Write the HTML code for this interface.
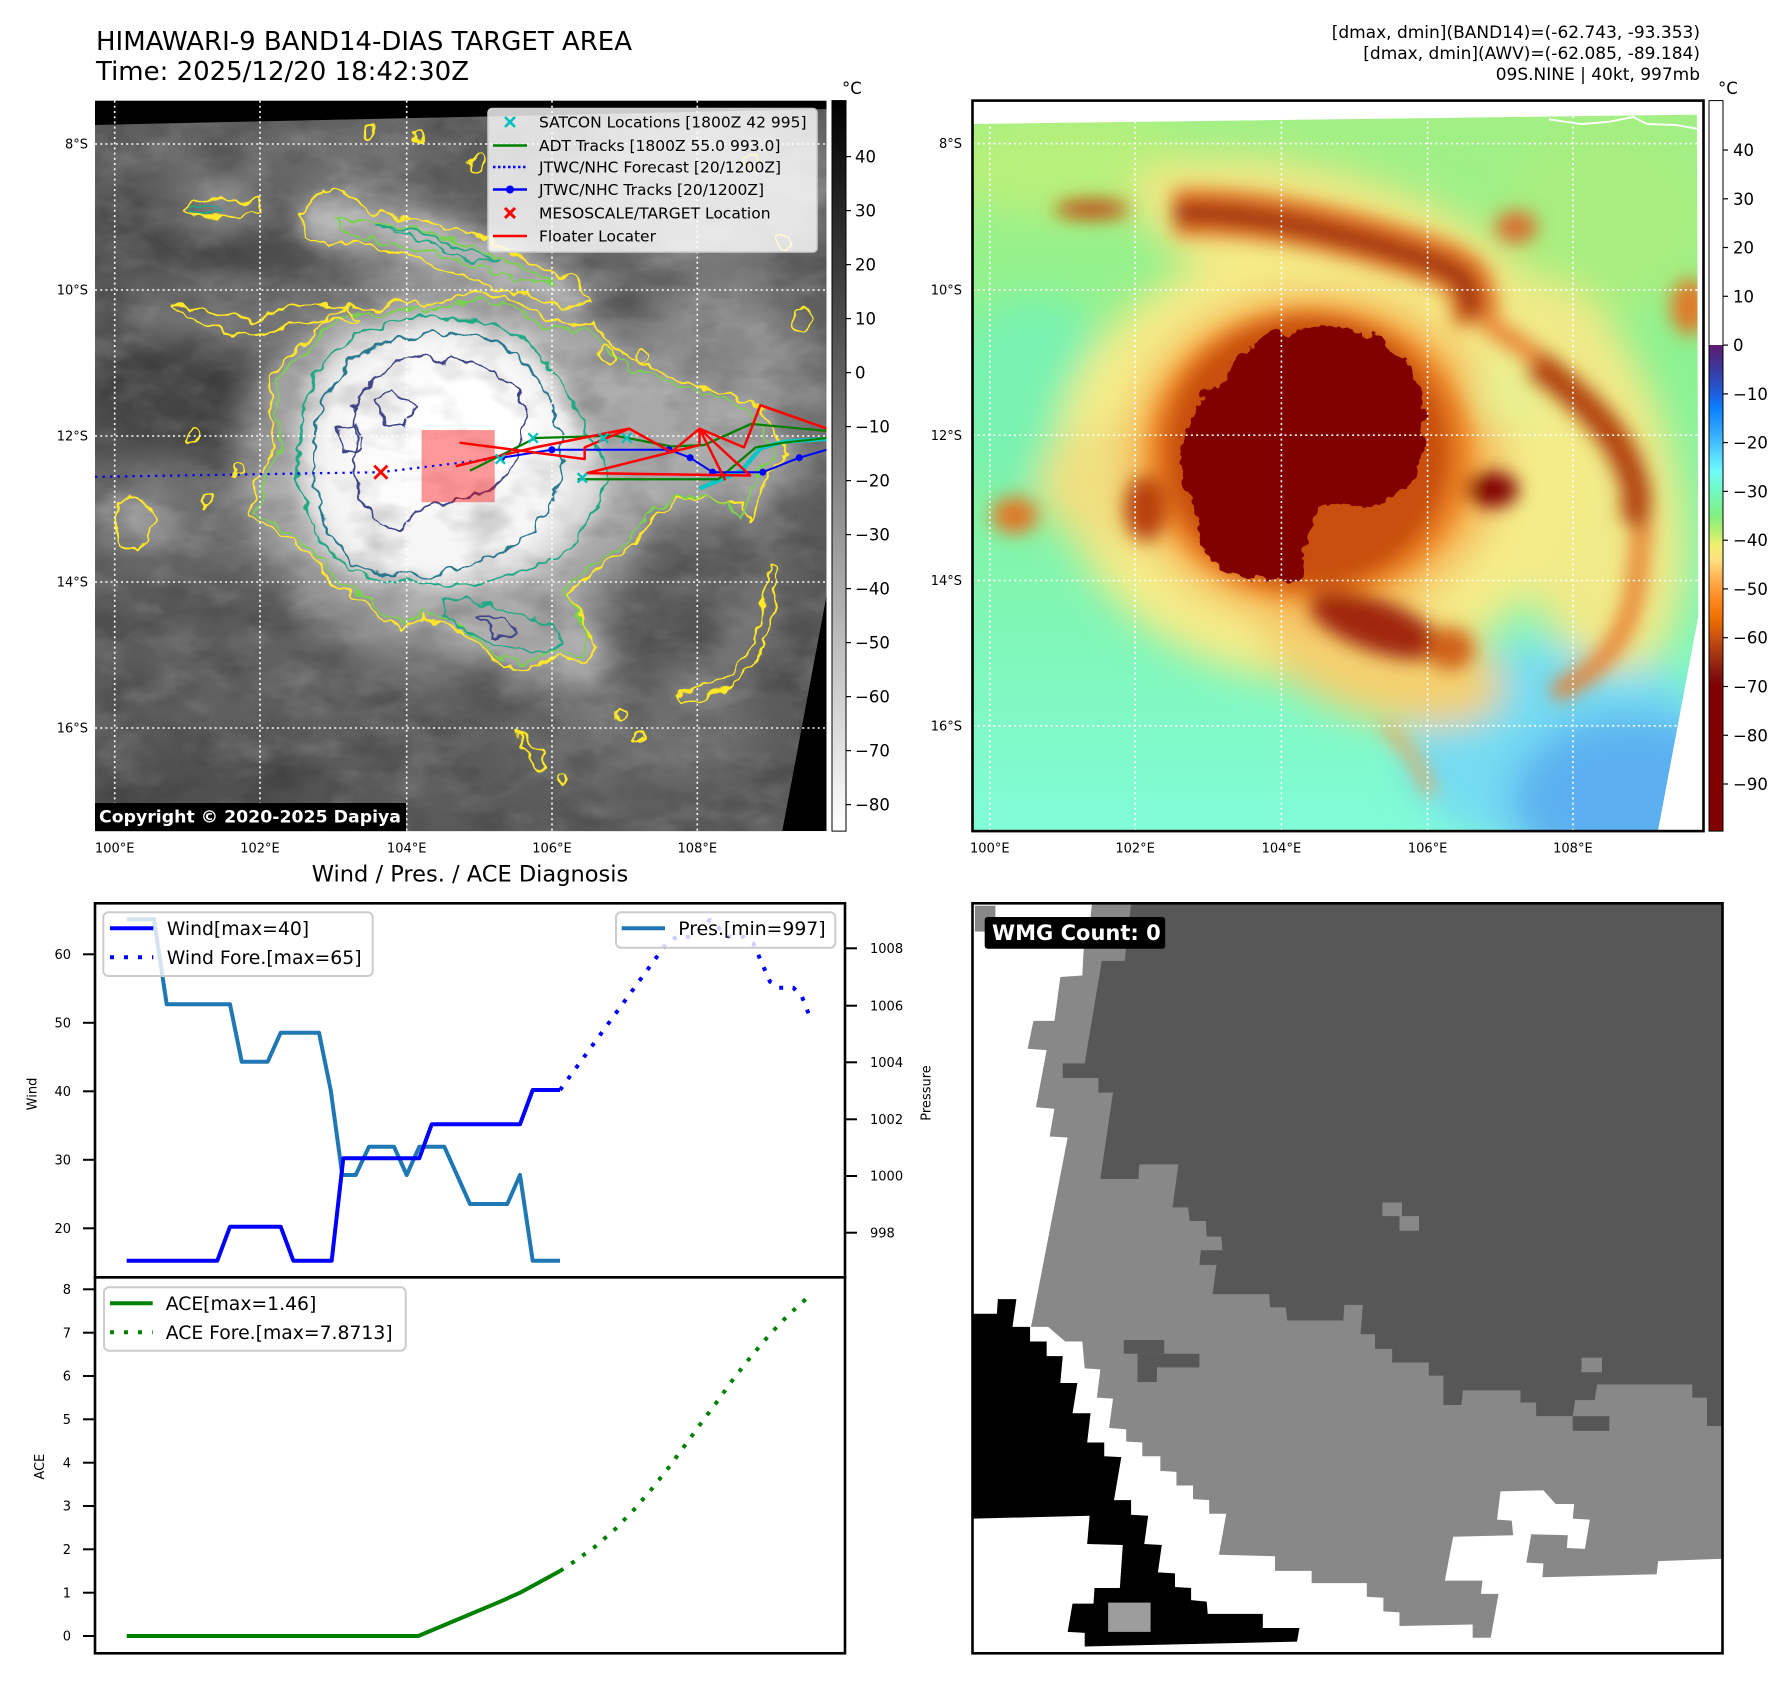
<!DOCTYPE html>
<html><head><meta charset="utf-8">
<style>
html,body{margin:0;padding:0;background:#fff}
svg{display:block}
text{font-family:"DejaVu Sans","Liberation Sans",sans-serif;fill:#000}
</style></head><body>
<svg xmlns="http://www.w3.org/2000/svg" width="1788" height="1690" viewBox="0 0 1788 1690">
<defs>
 <filter id="b40" x="-50%" y="-50%" width="200%" height="200%"><feGaussianBlur stdDeviation="40"/></filter>
 <filter id="b20" x="-50%" y="-50%" width="200%" height="200%"><feGaussianBlur stdDeviation="20"/></filter>
 <filter id="b8" x="-50%" y="-50%" width="200%" height="200%"><feGaussianBlur stdDeviation="8"/></filter>
 <filter id="rough" x="-10%" y="-10%" width="120%" height="120%"><feTurbulence type="fractalNoise" baseFrequency="0.03" numOctaves="2" seed="4" result="t"/><feDisplacementMap in="SourceGraphic" in2="t" scale="32" xChannelSelector="R" yChannelSelector="G"/></filter>
 <filter id="rough2" x="-10%" y="-10%" width="120%" height="120%"><feTurbulence type="fractalNoise" baseFrequency="0.025" numOctaves="3" seed="9" result="t"/><feDisplacementMap in="SourceGraphic" in2="t" scale="45" xChannelSelector="R" yChannelSelector="G"/></filter>
 <filter id="tex" x="0" y="0" width="100%" height="100%"><feTurbulence type="fractalNoise" baseFrequency="0.008 0.014" numOctaves="4" seed="7"/><feColorMatrix type="matrix" values="0 0 0 0 1  0 0 0 0 1  0 0 0 0 1  2.2 0 0 0 -1.0"/></filter>
 <filter id="texd" x="0" y="0" width="100%" height="100%"><feTurbulence type="fractalNoise" baseFrequency="0.009 0.015" numOctaves="3" seed="13"/><feColorMatrix type="matrix" values="0 0 0 0 0  0 0 0 0 0  0 0 0 0 0  2.2 0 0 0 -1.0"/></filter>
 <linearGradient id="gcb" x1="0" y1="0" x2="0" y2="1"><stop offset="0" stop-color="#000"/><stop offset="1" stop-color="#fff"/></linearGradient>
 <linearGradient id="ccb" x1="0" y1="0" x2="0" y2="1">
  <stop offset="0" stop-color="#fff"/><stop offset="0.3347" stop-color="#fff"/>
  <stop offset="0.3347" stop-color="#5e1a6e"/>
  <stop offset="0.3681" stop-color="#3a3aa0"/>
  <stop offset="0.4015" stop-color="#1e5ee0"/>
  <stop offset="0.4215" stop-color="#0a82ff"/>
  <stop offset="0.4549" stop-color="#34aaff"/>
  <stop offset="0.4949" stop-color="#62e8ff"/>
  <stop offset="0.5083" stop-color="#70fcf8"/>
  <stop offset="0.5350" stop-color="#70f8c0"/>
  <stop offset="0.5684" stop-color="#82f080"/>
  <stop offset="0.5884" stop-color="#b4f070"/>
  <stop offset="0.6085" stop-color="#f0f070"/>
  <stop offset="0.6285" stop-color="#ffe080"/>
  <stop offset="0.6552" stop-color="#ffb050"/>
  <stop offset="0.6819" stop-color="#ff8a20"/>
  <stop offset="0.7086" stop-color="#f07000"/>
  <stop offset="0.7353" stop-color="#c85010"/>
  <stop offset="0.7620" stop-color="#a03010"/>
  <stop offset="0.7886" stop-color="#801010"/>
  <stop offset="0.8020" stop-color="#800000"/>
  <stop offset="1" stop-color="#800000"/>
 </linearGradient>
 <linearGradient id="rbg" x1="0" y1="0" x2="0" y2="1">
  <stop offset="0" stop-color="#a4f084"/><stop offset="0.35" stop-color="#8cf290"/>
  <stop offset="0.7" stop-color="#80f6b4"/><stop offset="1" stop-color="#80fcd8"/>
 </linearGradient>
 <clipPath id="clipL"><rect x="95" y="100.6" width="731.5" height="730.5"/></clipPath>
 <clipPath id="clipR"><rect x="972.5" y="100.6" width="731" height="730.5"/></clipPath>
 <clipPath id="imgL"><polygon points="0,52 1562,18 1562,1052 1466,1562 0,1562"/></clipPath>
 <clipPath id="imgR"><polygon points="0,50 1546,30 1549,1100 1462,1562 0,1562"/></clipPath>
 <clipPath id="clipW"><rect x="972.5" y="903.3" width="750" height="750"/></clipPath>

 <path id="sA" d="M330,880 L350,800 L390,740 L370,660 L380,590 L420,540 L470,500 L500,460 L540,440 L600,450 L640,425 L700,440 L770,420 L840,410 L900,430 L960,470 L1020,480 L1060,470 L1100,520 L1160,560 L1210,580 L1260,600 L1330,620 L1400,640 L1440,680 L1480,760 L1440,790 L1420,840 L1400,900 L1380,860 L1320,850 L1250,850 L1190,890 L1150,950 L1080,990 L1010,1050 L1040,1110 L1070,1160 L1050,1200 L990,1190 L930,1210 L870,1210 L830,1170 L770,1130 L700,1100 L650,1130 L610,1100 L560,1060 L500,1030 L470,980 L420,940 L370,910 Z"/>
 <path id="sB" d="M430,780 L440,690 L460,610 L500,540 L570,490 L640,470 L700,460 L780,465 L860,480 L920,510 L960,560 L1000,610 L1040,680 L1070,740 L1090,800 L1070,870 L1030,930 L990,975 L930,1000 L860,1020 L790,1035 L700,1030 L620,1025 L550,1000 L500,960 L460,900 L440,840 Z"/>
 <path id="sC" d="M465,790 L470,700 L490,630 L540,560 L620,515 L720,495 L800,500 L870,520 L930,570 L970,630 L990,700 L1000,780 L980,850 L940,910 L880,960 L800,990 L710,1015 L620,1010 L550,985 L505,930 L480,870 Z"/>
 <path id="sD" d="M550,650 L590,600 L640,560 L700,545 L740,560 L760,550 L800,560 L850,580 L900,620 L920,680 L905,760 L880,800 L850,830 L780,850 L720,860 L680,880 L650,920 L610,900 L575,870 L560,820 L545,770 L560,720 Z"/>
 <path id="sTop" d="M440,240 L480,190 L540,200 L600,240 L660,250 L720,260 L790,280 L840,300 L900,330 L960,360 L1020,380 L1060,430 L1000,440 L930,420 L860,400 L800,380 L740,360 L680,330 L620,320 L560,300 L490,310 L450,290 Z"/>
 <path id="sArc" d="M1240,1270 L1300,1255 L1360,1220 L1400,1170 L1420,1110 L1430,1050 L1440,990 L1455,1000 L1450,1060 L1440,1130 L1410,1200 L1360,1250 L1300,1275 L1245,1285 Z"/>
 <path id="sArm" d="M160,435 L250,450 L330,470 L420,440 L480,435 L540,440 L560,470 L500,470 L420,480 L360,500 L300,500 L240,480 L170,450 Z"/>
 <path id="sBot" d="M740,1070 L800,1060 L860,1080 L920,1100 L980,1120 L1000,1160 L960,1180 L900,1170 L840,1150 L780,1130 L745,1100 Z"/>
</defs>

<rect width="1788" height="1690" fill="#fff"/>

<!-- Titles -->
<text x="96" y="50" font-size="25.5" textLength="536" lengthAdjust="spacingAndGlyphs">HIMAWARI-9 BAND14-DIAS TARGET AREA</text>
<text x="96" y="80" font-size="25.5" textLength="373" lengthAdjust="spacingAndGlyphs">Time: 2025/12/20 18:42:30Z</text>
<text x="1700" y="38" font-size="17" text-anchor="end">[dmax, dmin](BAND14)=(-62.743, -93.353)</text>
<text x="1700" y="59" font-size="17" text-anchor="end">[dmax, dmin](AWV)=(-62.085, -89.184)</text>
<text x="1700" y="80" font-size="17" text-anchor="end">09S.NINE | 40kt, 997mb</text>

<!-- ============ LEFT MAP ============ -->
<g clip-path="url(#clipL)">
 <rect x="95" y="100.6" width="731.5" height="730.5" fill="#000"/>
 <g transform="translate(95,100.6) scale(0.4686)">
  <g clip-path="url(#imgL)">
   <rect width="1562" height="1562" fill="#5a5a5a"/>
   <g filter="url(#b40)">
    <ellipse cx="300" cy="300" rx="320" ry="90" fill="#4a4a4a"/>
    <ellipse cx="180" cy="640" rx="200" ry="150" fill="#444"/>
    <ellipse cx="280" cy="450" rx="230" ry="50" fill="#7e7e7e"/>
    <ellipse cx="350" cy="120" rx="330" ry="70" fill="#686868"/>
    <ellipse cx="620" cy="110" rx="140" ry="70" fill="#747474"/>
    <ellipse cx="1300" cy="180" rx="300" ry="170" fill="#858585"/>
    <ellipse cx="1330" cy="650" rx="240" ry="270" fill="#888"/>
    <ellipse cx="150" cy="880" rx="200" ry="120" fill="#6e6e6e"/>
    <ellipse cx="450" cy="1250" rx="350" ry="150" fill="#606060"/>
    <ellipse cx="1150" cy="1350" rx="280" ry="130" fill="#6c6c6c"/>
    <ellipse cx="250" cy="1460" rx="260" ry="100" fill="#505050"/>
    <ellipse cx="760" cy="330" rx="340" ry="80" transform="rotate(17 760 330)" fill="#a0a0a0"/>
    <ellipse cx="760" cy="790" rx="460" ry="410" fill="#929292"/>
    <ellipse cx="900" cy="1130" rx="210" ry="75" transform="rotate(22 900 1130)" fill="#b6b6b6"/>
    <path d="M1240,1270 Q1420,1200 1440,1000" stroke="#9a9a9a" stroke-width="40" fill="none"/>
    <ellipse cx="90" cy="900" rx="50" ry="55" fill="#b0b0b0"/>
    <ellipse cx="265" cy="230" rx="90" ry="25" fill="#b4b4b4"/>
   </g>
   <g filter="url(#b20)">
    <use href="#sA" fill="#a8a8a8"/>
    <use href="#sTop" fill="#b2b2b2"/>
    <use href="#sB" fill="#dedede"/>
    <use href="#sC" fill="#f0f0f0"/>
    <ellipse cx="745" cy="760" rx="270" ry="265" fill="#f6f6f6"/>
    <use href="#sD" fill="#fcfcfc"/>
    <ellipse cx="810" cy="700" rx="130" ry="120" fill="#fff"/>
   </g>
   <rect width="1562" height="1562" filter="url(#tex)" opacity="0.16"/>
   <rect width="1562" height="1562" filter="url(#texd)" opacity="0.18"/>
   <g filter="url(#rough)" fill="none" stroke-width="4.3" stroke-linejoin="round">
    <use href="#sA" stroke="#fde725"/>
    <use href="#sA" stroke="#7ad151" transform="translate(26.6,28) scale(0.965)"/>
    <use href="#sB" stroke="#22a884"/>
    <use href="#sC" stroke="#2a788e"/>
    <use href="#sD" stroke="#414487"/>
    <use href="#sTop" stroke="#fde725"/>
    <path d="M520,250 L600,260 L700,280 L800,310 L900,350 L980,390 L900,380 L800,350 L700,320 L600,300 L530,280 Z" stroke="#7ad151"/>
    <path d="M600,265 L700,285 L800,320 L860,340 L800,340 L700,300 Z" stroke="#22a884"/>
    <path d="M185,235 L210,210 L260,205 L320,215 L350,210 L345,240 L300,245 L250,248 L200,245 Z" stroke="#fde725"/>
    <ellipse cx="235" cy="232" rx="35" ry="10" stroke="#22a884"/>
    <use href="#sArc" stroke="#fde725"/>
    <use href="#sArm" stroke="#fde725"/>
    <path d="M50,850 L80,840 L120,870 L130,900 L110,930 L90,960 L60,950 L45,900 Z" stroke="#fde725"/>
    <use href="#sBot" stroke="#22a884"/>
    <path d="M820,1100 L880,1105 L900,1135 L850,1140 Z" stroke="#414487"/>
    <path d="M600,640 L640,620 L680,650 L660,700 L620,690 Z" stroke="#414487"/>
    <path d="M520,700 L560,690 L570,740 L530,750 Z" stroke="#414487"/>
    <circle cx="585" cy="65" r="10" stroke="#fde725"/>
    <circle cx="690" cy="75" r="12" stroke="#fde725"/>
    <circle cx="815" cy="135" r="15" stroke="#fde725"/>
    <circle cx="1090" cy="545" r="20" stroke="#fde725"/>
    <circle cx="1165" cy="545" r="15" stroke="#fde725"/>
    <circle cx="1400" cy="130" r="14" stroke="#fde725"/>
    <circle cx="1470" cy="300" r="16" stroke="#fde725"/>
    <circle cx="1510" cy="470" r="22" stroke="#fde725"/>
    <circle cx="240" cy="855" r="12" stroke="#fde725"/>
    <circle cx="300" cy="790" r="10" stroke="#fde725"/>
    <circle cx="210" cy="720" r="14" stroke="#fde725"/>
    <path d="M900,1350 L940,1380 L970,1420 L950,1425 L910,1380 Z" stroke="#fde725"/>
    <circle cx="1000" cy="1450" r="10" stroke="#fde725"/>
    <circle cx="1120" cy="1310" r="12" stroke="#fde725"/>
    <circle cx="1160" cy="1360" r="8" stroke="#fde725"/>
   </g>
  </g>
 </g>
 <!-- gridlines -->
 <g stroke="#fff" stroke-width="1.6" stroke-dasharray="2 3.2" fill="none">
  <line x1="114.7" y1="100.6" x2="114.7" y2="831"/><line x1="260" y1="100.6" x2="260" y2="831"/>
  <line x1="406.7" y1="100.6" x2="406.7" y2="831"/><line x1="552" y1="100.6" x2="552" y2="831"/>
  <line x1="697.3" y1="100.6" x2="697.3" y2="831"/>
  <line x1="95" y1="144" x2="826.5" y2="144"/><line x1="95" y1="290" x2="826.5" y2="290"/>
  <line x1="95" y1="436" x2="826.5" y2="436"/><line x1="95" y1="582" x2="826.5" y2="582"/>
  <line x1="95" y1="728" x2="826.5" y2="728"/>
 </g>
 <!-- tracks -->
 <g transform="translate(95,100.6) scale(0.4686)" fill="none" stroke-linejoin="round">
  <rect x="697" y="703" width="156" height="154" fill="#ff0000" fill-opacity="0.4" stroke="none"/>
  <path d="M0,803 L610,793 L870,762" stroke="#0000ff" stroke-width="4.7" stroke-dasharray="5 11"/>
  <path d="M1290,828 L1380,790 L1420,742 L1470,728 L1562,722" stroke="#00c8c8" stroke-width="9"/>
  <path d="M800,790 L940,720 L1110,715 L1230,738 L1300,735 L1400,690 L1562,705" stroke="#008000" stroke-width="4.7"/>
  <path d="M1030,808 L1330,808 L1410,740 L1470,730 L1562,720" stroke="#008000" stroke-width="4.7"/>
  <path d="M868,762 L975,745 L1225,745 L1270,762 L1318,793 L1425,793 L1503,762 L1562,745" stroke="#0000ff" stroke-width="4.3"/>
  <g fill="#0000ff"><circle cx="868" cy="762" r="7.5"/><circle cx="975" cy="745" r="7.5"/><circle cx="1225" cy="745" r="7.5"/><circle cx="1270" cy="762" r="7.5"/><circle cx="1318" cy="793" r="7.5"/><circle cx="1425" cy="793" r="7.5"/><circle cx="1503" cy="762" r="7.5"/></g>
  <path d="M778,730 L1045,765 L1045,740 L1140,700 L1230,750 L1290,700 L1290,735 L1050,795 L1398,800 L1290,700 L1385,740 L1420,650 L1562,700" stroke="#ff0000" stroke-width="5.3"/>
  <path d="M770,780 L940,740 L1140,700" stroke="#ff0000" stroke-width="5.3"/>
  <path d="M1290,700 L1345,810" stroke="#ff0000" stroke-width="5.3"/>
  <g stroke="#00c0c0" stroke-width="5"><path d="M925,710 L945,730 M945,710 L925,730"/><path d="M1075,710 L1095,730 M1095,710 L1075,730"/><path d="M1125,710 L1145,730 M1145,710 L1125,730"/><path d="M855,755 L875,775 M875,755 L855,775"/><path d="M1030,795 L1050,815 M1050,795 L1030,815"/></g>
  <path d="M596,779 L624,807 M624,779 L596,807" stroke="#ff0000" stroke-width="6"/>
 </g>
 <!-- copyright -->
 <rect x="95" y="803" width="311" height="29" fill="#000"/>
 <text x="99" y="822.5" font-size="17" font-weight="bold" style="fill:#fff" textLength="302" lengthAdjust="spacingAndGlyphs">Copyright © 2020-2025 Dapiya</text>
</g>
<!-- left legend -->
<rect x="488" y="108.5" width="329" height="143.5" rx="4" fill="#fff" fill-opacity="0.8" stroke="#ccc" stroke-width="1.5"/>
<g font-size="15.5">
 <path d="M505,117 L515,127 M515,117 L505,127" stroke="#00bfbf" stroke-width="2.6"/>
 <text x="539" y="127.6">SATCON Locations [1800Z 42 995]</text>
 <line x1="493" y1="145.5" x2="527" y2="145.5" stroke="#008000" stroke-width="2.5"/>
 <text x="539" y="151.1">ADT Tracks [1800Z 55.0 993.0]</text>
 <line x1="493" y1="167" x2="527" y2="167" stroke="#0000ff" stroke-width="2.5" stroke-dasharray="2.5 2.5"/>
 <text x="539" y="172.6">JTWC/NHC Forecast [20/1200Z]</text>
 <line x1="493" y1="189.5" x2="527" y2="189.5" stroke="#0000ff" stroke-width="2.5"/>
 <circle cx="510" cy="189.5" r="4" fill="#0000ff"/>
 <text x="539" y="195.1">JTWC/NHC Tracks [20/1200Z]</text>
 <path d="M505,208 L515,218 M515,208 L505,218" stroke="#ff0000" stroke-width="3"/>
 <text x="539" y="218.6">MESOSCALE/TARGET Location</text>
 <line x1="493" y1="236" x2="527" y2="236" stroke="#ff0000" stroke-width="2.5"/>
 <text x="539" y="241.6">Floater Locater</text>
</g>
<!-- left map labels -->
<g font-size="13">
 <g text-anchor="end"><text x="88" y="148.6">8°S</text><text x="88" y="294.6">10°S</text><text x="88" y="440.6">12°S</text><text x="88" y="586.6">14°S</text><text x="88" y="732.6">16°S</text></g>
 <g text-anchor="middle"><text x="114.7" y="852.5">100°E</text><text x="260" y="852.5">102°E</text><text x="406.7" y="852.5">104°E</text><text x="552" y="852.5">106°E</text><text x="697.3" y="852.5">108°E</text></g>
</g>
<!-- left colorbar -->
<rect x="832" y="100.6" width="14" height="730.5" fill="url(#gcb)" stroke="#000" stroke-width="1"/>
<text x="842" y="94" font-size="16.5">°C</text>
<g stroke="#000" stroke-width="1.2">
 <line x1="846" y1="156.6" x2="851" y2="156.6"/><line x1="846" y1="210.6" x2="851" y2="210.6"/><line x1="846" y1="264.6" x2="851" y2="264.6"/><line x1="846" y1="318.6" x2="851" y2="318.6"/><line x1="846" y1="372.6" x2="851" y2="372.6"/><line x1="846" y1="426.6" x2="851" y2="426.6"/><line x1="846" y1="480.6" x2="851" y2="480.6"/><line x1="846" y1="534.6" x2="851" y2="534.6"/><line x1="846" y1="588.6" x2="851" y2="588.6"/><line x1="846" y1="642.6" x2="851" y2="642.6"/><line x1="846" y1="696.6" x2="851" y2="696.6"/><line x1="846" y1="750.6" x2="851" y2="750.6"/><line x1="846" y1="804.6" x2="851" y2="804.6"/>
</g>
<g font-size="16.5">
 <text x="855" y="162.6">40</text><text x="855" y="216.6">30</text><text x="855" y="270.6">20</text><text x="855" y="324.6">10</text><text x="855" y="378.6">0</text><text x="855" y="432.6">−10</text><text x="855" y="486.6">−20</text><text x="855" y="540.6">−30</text><text x="855" y="594.6">−40</text><text x="855" y="648.6">−50</text><text x="855" y="702.6">−60</text><text x="855" y="756.6">−70</text><text x="855" y="810.6">−80</text>
</g>

<!-- ============ RIGHT MAP ============ -->
<g clip-path="url(#clipR)">
 <rect x="972.5" y="100.6" width="731" height="730.5" fill="#fff"/>
 <g transform="translate(972.5,100.6) scale(0.4686)">
  <g clip-path="url(#imgR)">
   <rect width="1562" height="1562" fill="url(#rbg)"/>
   <g filter="url(#b40)">
    <ellipse cx="1250" cy="1380" rx="330" ry="220" fill="#74dcf2"/>
    <ellipse cx="1410" cy="1490" rx="260" ry="180" fill="#5cb0f0"/>
    <ellipse cx="130" cy="640" rx="190" ry="220" fill="#78f2b0"/>
    <ellipse cx="200" cy="140" rx="260" ry="110" fill="#b8f07c"/>
    <ellipse cx="1350" cy="250" rx="230" ry="200" fill="#a8ee80"/>
    <ellipse cx="760" cy="300" rx="430" ry="150" transform="rotate(15 760 300)" fill="#f2e884"/>
    <ellipse cx="1300" cy="800" rx="200" ry="430" transform="rotate(-15 1300 800)" fill="#f0ea88"/>
    <ellipse cx="740" cy="770" rx="560" ry="470" fill="#f4ec88"/>
    <ellipse cx="880" cy="1200" rx="260" ry="120" transform="rotate(15 880 1200)" fill="#f4d070"/>
    <ellipse cx="300" cy="820" rx="160" ry="130" fill="#f0e080"/>
    <ellipse cx="730" cy="760" rx="400" ry="350" fill="#f6b050"/>
    <ellipse cx="1150" cy="620" rx="90" ry="90" fill="#e8f090"/>
   </g>
   <g filter="url(#b20)">
    <ellipse cx="720" cy="755" rx="345" ry="310" fill="#ea8020"/>
    <ellipse cx="715" cy="750" rx="305" ry="290" fill="#c85010"/>
    <path d="M430,240 C600,230 800,280 950,330 S1050,400 1080,470" stroke="#e07020" stroke-width="100" fill="none"/>
    <path d="M430,240 C600,235 800,285 950,335 S1040,400 1070,460" stroke="#962408" stroke-width="40" fill="none"/>
    <path d="M1090,470 C1200,540 1300,610 1370,700 S1430,900 1420,1000 S1380,1200 1240,1265" stroke="#e88030" stroke-width="40" fill="none"/>
    <path d="M1200,560 C1280,620 1350,680 1390,760 S1420,880 1400,900" stroke="#b04010" stroke-width="60" fill="none"/>
    <ellipse cx="860" cy="1120" rx="150" ry="55" transform="rotate(20 860 1120)" fill="#a02808"/>
    <ellipse cx="1020" cy="1170" rx="50" ry="45" fill="#d06018"/>
    <ellipse cx="255" cy="232" rx="80" ry="20" fill="#c04808"/>
    <ellipse cx="90" cy="885" rx="50" ry="40" fill="#e07828"/>
    <ellipse cx="1110" cy="830" rx="55" ry="38" fill="#800000"/>
    <ellipse cx="370" cy="870" rx="45" ry="70" fill="#b84010"/>
    <ellipse cx="1160" cy="270" rx="45" ry="35" fill="#d87030"/>
    <ellipse cx="1530" cy="440" rx="40" ry="60" fill="#e07828"/>
    <path d="M880,1330 L940,1400 L980,1480" stroke="#f0a050" stroke-width="22" fill="none"/>
   </g>
   <path filter="url(#rough2)" fill="#800000" d="M440,720 L470,650 L520,610 L560,550 L640,495 L760,480 L860,500 L930,560 L960,640 L965,720 L950,790 L900,850 L830,870 L760,860 L725,880 L715,950 L700,1015 L600,1025 L530,1000 L490,940 L470,860 L450,790 Z"/>
   <path d="M1230,40 L1300,50 L1360,45 L1410,35 L1440,50 L1500,52 L1546,60" stroke="#fff" stroke-width="4" fill="none"/>
  </g>
 </g>
 <g stroke="#fff" stroke-width="1.6" stroke-dasharray="2 3.2" fill="none">
  <line x1="989.8" y1="100.6" x2="989.8" y2="831"/><line x1="1135.1" y1="100.6" x2="1135.1" y2="831"/>
  <line x1="1281.4" y1="100.6" x2="1281.4" y2="831"/><line x1="1427.6" y1="100.6" x2="1427.6" y2="831"/>
  <line x1="1572.9" y1="100.6" x2="1572.9" y2="831"/>
  <line x1="972.5" y1="143.6" x2="1703.5" y2="143.6"/><line x1="972.5" y1="289.8" x2="1703.5" y2="289.8"/>
  <line x1="972.5" y1="435.2" x2="1703.5" y2="435.2"/><line x1="972.5" y1="580.5" x2="1703.5" y2="580.5"/>
  <line x1="972.5" y1="725.8" x2="1703.5" y2="725.8"/>
 </g>
</g>
<rect x="972.5" y="100.6" width="731" height="730.5" fill="none" stroke="#000" stroke-width="2.6"/>
<g font-size="13">
 <g text-anchor="end"><text x="962" y="148.2">8°S</text><text x="962" y="294.4">10°S</text><text x="962" y="439.8">12°S</text><text x="962" y="585.1">14°S</text><text x="962" y="730.4">16°S</text></g>
 <g text-anchor="middle"><text x="989.8" y="852.5">100°E</text><text x="1135.1" y="852.5">102°E</text><text x="1281.4" y="852.5">104°E</text><text x="1427.6" y="852.5">106°E</text><text x="1572.9" y="852.5">108°E</text></g>
</g>
<!-- right colorbar -->
<rect x="1709" y="100.6" width="14" height="730.5" fill="url(#ccb)" stroke="#000" stroke-width="1"/>
<text x="1718" y="94" font-size="16.5">°C</text>
<g stroke="#000" stroke-width="1.2">
 <line x1="1723" y1="150" x2="1728" y2="150"/><line x1="1723" y1="198.8" x2="1728" y2="198.8"/><line x1="1723" y1="247.5" x2="1728" y2="247.5"/><line x1="1723" y1="296.3" x2="1728" y2="296.3"/><line x1="1723" y1="345.1" x2="1728" y2="345.1"/><line x1="1723" y1="393.9" x2="1728" y2="393.9"/><line x1="1723" y1="442.6" x2="1728" y2="442.6"/><line x1="1723" y1="491.4" x2="1728" y2="491.4"/><line x1="1723" y1="540.2" x2="1728" y2="540.2"/><line x1="1723" y1="588.9" x2="1728" y2="588.9"/><line x1="1723" y1="637.7" x2="1728" y2="637.7"/><line x1="1723" y1="686.5" x2="1728" y2="686.5"/><line x1="1723" y1="735.3" x2="1728" y2="735.3"/><line x1="1723" y1="784" x2="1728" y2="784"/>
</g>
<g font-size="16.5">
 <text x="1733" y="156">40</text><text x="1733" y="204.8">30</text><text x="1733" y="253.5">20</text><text x="1733" y="302.3">10</text><text x="1733" y="351.1">0</text><text x="1733" y="399.9">−10</text><text x="1733" y="448.6">−20</text><text x="1733" y="497.4">−30</text><text x="1733" y="546.2">−40</text><text x="1733" y="594.9">−50</text><text x="1733" y="643.7">−60</text><text x="1733" y="692.5">−70</text><text x="1733" y="741.3">−80</text><text x="1733" y="790">−90</text>
</g>

<!-- ============ CHART ============ -->
<text x="470" y="881.5" font-size="22.5" text-anchor="middle">Wind / Pres. / ACE Diagnosis</text>
<g fill="none" stroke-linejoin="round">
 <polyline points="126.7,919.3 154,919.3 166.7,1004.3 230,1004.3 241.7,1061.7 267.7,1061.7 280.7,1032.7 319,1032.7 330.7,1090 342.3,1175 355.7,1175 369,1146.7 394,1146.7 406.7,1175 419.3,1146.7 444.3,1146.7 470,1204 507.3,1204 520,1175 532.7,1260.7 560,1260.7" stroke="#1f77b4" stroke-width="4"/>
 <polyline points="126.7,1260.7 217.3,1260.7 230,1226.7 280.7,1226.7 293.3,1260.7 331.7,1260.7 343.3,1158.3 419.3,1158.3 431.7,1124.3 520,1124.3 532.7,1090 560,1090" stroke="#0000ff" stroke-width="4"/>
 <polyline points="560,1090 666.7,943.3 676.7,936.7 690,936.7 710,920 728.3,936.7 743.3,936.7 753.3,943.3 770,981.7 778.3,987.7 793.3,987.7 801.7,996 811.7,1021.7" stroke="#0000ff" stroke-width="4" stroke-dasharray="4 9.5"/>
 <polyline points="126.7,1636 418.3,1636 500,1601.7 520,1592.7 560,1571" stroke="#008000" stroke-width="4"/>
 <polyline points="560,1571 571.7,1563.3 594.3,1547.3 615,1529.3 634.3,1509.3 652.3,1488.3 669.3,1466.7 685.7,1444.3 701.7,1422.3 718.3,1400 734.3,1377.7 751.7,1355.7 769.3,1335 788.3,1315 809.3,1296" stroke="#008000" stroke-width="4" stroke-dasharray="4 9.5"/>
</g>
<rect x="95" y="903.3" width="750" height="374" fill="none" stroke="#000" stroke-width="2.6"/>
<rect x="95" y="1277.3" width="750" height="376" fill="none" stroke="#000" stroke-width="2.6"/>
<!-- legends -->
<rect x="103.3" y="912.3" width="269.4" height="63.7" rx="5" fill="#fff" fill-opacity="0.8" stroke="#ccc" stroke-width="2"/>
<line x1="110" y1="928.3" x2="153.3" y2="928.3" stroke="#0000ff" stroke-width="4"/>
<line x1="110" y1="957.3" x2="153.3" y2="957.3" stroke="#0000ff" stroke-width="4" stroke-dasharray="4 10"/>
<text x="166.7" y="935" font-size="18.8">Wind[max=40]</text>
<text x="166.7" y="964" font-size="18.8">Wind Fore.[max=65]</text>
<rect x="616" y="912.3" width="219.3" height="35.4" rx="5" fill="#fff" fill-opacity="0.8" stroke="#ccc" stroke-width="2"/>
<line x1="621.7" y1="928.3" x2="665" y2="928.3" stroke="#1f77b4" stroke-width="4"/>
<text x="678.3" y="935" font-size="18.8">Pres.[min=997]</text>
<rect x="104" y="1287.3" width="301.7" height="63.4" rx="5" fill="#fff" fill-opacity="0.8" stroke="#ccc" stroke-width="2"/>
<line x1="110" y1="1303.3" x2="152.7" y2="1303.3" stroke="#008000" stroke-width="4"/>
<line x1="110" y1="1332.3" x2="152.7" y2="1332.3" stroke="#008000" stroke-width="4" stroke-dasharray="4 10"/>
<text x="165.7" y="1310.2" font-size="18.8">ACE[max=1.46]</text>
<text x="165.7" y="1339.2" font-size="18.8">ACE Fore.[max=7.8713]</text>
<!-- ticks -->
<g stroke="#000" stroke-width="2">
 <line x1="83" y1="954.3" x2="95" y2="954.3"/><line x1="83" y1="1022.8" x2="95" y2="1022.8"/><line x1="83" y1="1091.3" x2="95" y2="1091.3"/><line x1="83" y1="1159.8" x2="95" y2="1159.8"/><line x1="83" y1="1228.3" x2="95" y2="1228.3"/>
 <line x1="845" y1="948.3" x2="857" y2="948.3"/><line x1="845" y1="1005.7" x2="857" y2="1005.7"/><line x1="845" y1="1062.3" x2="857" y2="1062.3"/><line x1="845" y1="1119.3" x2="857" y2="1119.3"/><line x1="845" y1="1176" x2="857" y2="1176"/><line x1="845" y1="1232.7" x2="857" y2="1232.7"/>
 <line x1="83" y1="1636" x2="95" y2="1636"/><line x1="83" y1="1592.7" x2="95" y2="1592.7"/><line x1="83" y1="1549.3" x2="95" y2="1549.3"/><line x1="83" y1="1506" x2="95" y2="1506"/><line x1="83" y1="1462.7" x2="95" y2="1462.7"/><line x1="83" y1="1419.3" x2="95" y2="1419.3"/><line x1="83" y1="1376" x2="95" y2="1376"/><line x1="83" y1="1332.7" x2="95" y2="1332.7"/><line x1="83" y1="1289.3" x2="95" y2="1289.3"/>
</g>
<g font-size="13">
 <g text-anchor="end">
  <text x="71" y="959">60</text><text x="71" y="1027.5">50</text><text x="71" y="1096">40</text><text x="71" y="1164.5">30</text><text x="71" y="1233">20</text>
  <text x="71" y="1640.7">0</text><text x="71" y="1597.4">1</text><text x="71" y="1554">2</text><text x="71" y="1510.7">3</text><text x="71" y="1467.4">4</text><text x="71" y="1424">5</text><text x="71" y="1380.7">6</text><text x="71" y="1337.4">7</text><text x="71" y="1294">8</text>
 </g>
 <text x="870" y="953">1008</text><text x="870" y="1010.4">1006</text><text x="870" y="1067">1004</text><text x="870" y="1124">1002</text><text x="870" y="1180.7">1000</text><text x="870" y="1237.4">998</text>
 <text transform="translate(36.7,1094) rotate(-90)" text-anchor="middle">Wind</text>
 <text transform="translate(44,1466.7) rotate(-90)" text-anchor="middle">ACE</text>
 <text transform="translate(930.5,1093) rotate(-90)" text-anchor="middle">Pressure</text>
</g>

<!-- ============ WMG ============ -->
<g clip-path="url(#clipW)">
 <rect x="972.5" y="903.3" width="750" height="750" fill="#fff"/>
 <g transform="translate(967.6,895) scale(0.488)">
  <polygon fill="#888" points="255,17 1548,17 1548,1360 1415,1365 1412,1392 1178,1398 1180,1370 1145,1368 1155,1310 1230,1312 1228,1338 1265,1340 1275,1280 1240,1278 1243,1248 1205,1248 1180,1220 1092,1222 1085,1280 1115,1282 1118,1312 995,1315 978,1405 1055,1405 1052,1432 1088,1432 1072,1522 1035,1522 1035,1495 885,1498 885,1470 852,1468 852,1440 818,1438 818,1410 705,1410 705,1385 630,1385 630,1355 515,1352 530,1268 495,1268 495,1240 462,1238 462,1210 428,1210 428,1182 395,1180 395,1150 358,1150 358,1122 325,1120 325,1095 290,1092 298,1032 265,1030 272,972 240,970 235,915 200,915 165,885 130,885 205,497 168,495 178,438 140,435 162,318 123,315 135,258 178,258 190,168 235,165 238,110 245,110"/>
  <polygon fill="#575757" points="335,17 1548,17 1548,1088 1515,1088 1515,1030 1485,1030 1485,1003 1290,1003 1285,1035 1245,1035 1240,1068 1165,1068 1165,1040 1133,1040 1133,1015 1015,1015 1012,1045 975,1045 975,985 945,985 945,958 870,958 870,930 835,930 835,900 805,900 810,840 772,840 770,872 655,872 652,845 620,845 618,818 502,818 510,758 475,758 478,728 522,728 520,700 490,700 488,668 455,668 452,640 420,640 432,552 352,552 350,582 272,582 298,405 268,405 268,375 195,375 195,345 240,345 275,135 322,135 325,105"/>
  <rect x="1240" y="1068" width="75" height="30" fill="#575757"/>
  <rect x="320" y="912" width="83" height="28" fill="#575757"/>
  <polygon fill="#575757" points="348,940 475,940 475,968 388,968 388,998 348,998"/>
  <rect x="850" y="630" width="40" height="28" fill="#888"/>
  <rect x="885" y="658" width="40" height="30" fill="#888"/>
  <rect x="1258" y="948" width="42" height="30" fill="#888"/>
  <polygon fill="#000" points="10,858 60,858 62,828 100,828 92,885 128,885 128,915 162,915 162,945 195,945 190,1000 225,1000 215,1062 252,1062 245,1122 280,1122 280,1150 315,1152 300,1240 335,1240 335,1270 370,1272 362,1330 398,1332 390,1388 425,1390 425,1418 458,1420 458,1445 490,1448 492,1473 605,1473 605,1502 680,1502 675,1530 240,1540 240,1512 205,1510 215,1452 258,1452 260,1420 312,1420 318,1332 245,1330 250,1272 10,1278"/>
  <rect x="288" y="1450" width="87" height="60" fill="#9d9d9d"/>
  <rect x="15" y="22" width="42" height="53" fill="#888"/>
 </g>
</g>
<rect x="972.5" y="903.3" width="750" height="750" fill="none" stroke="#000" stroke-width="2.6"/>
<rect x="984.7" y="917" width="180.5" height="31.7" rx="3" fill="#000"/>
<text x="992" y="940" font-size="21" font-weight="bold" style="fill:#fff">WMG Count: 0</text>
</svg>
</body></html>
